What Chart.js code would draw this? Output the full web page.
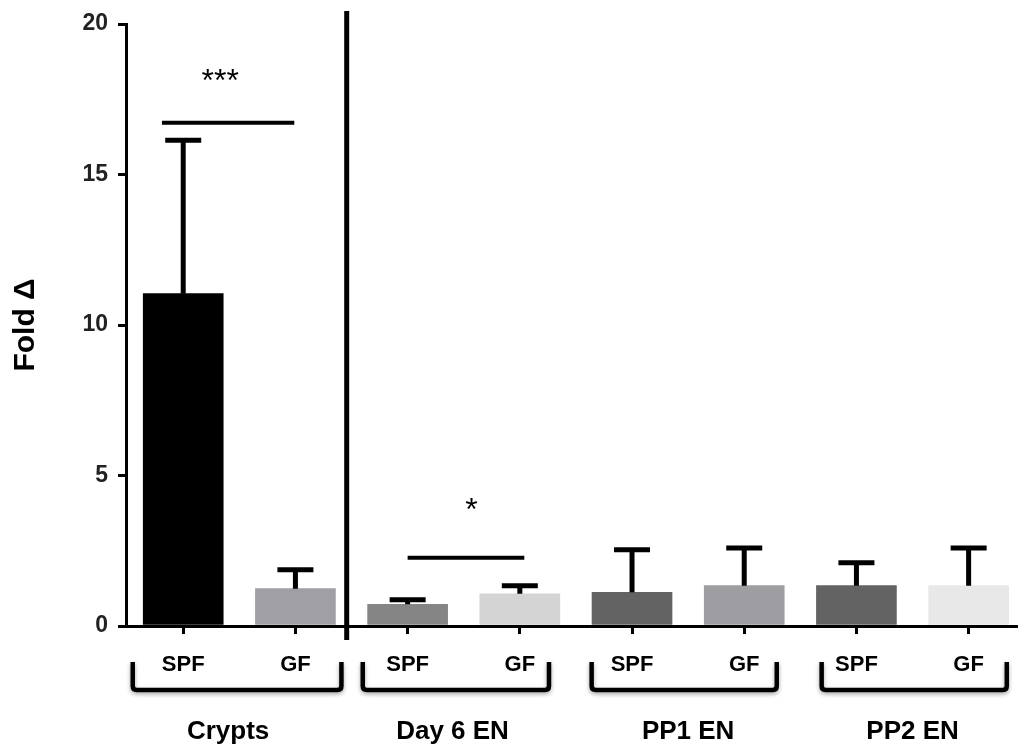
<!DOCTYPE html>
<html>
<head>
<meta charset="utf-8">
<script src="https://cdn.jsdelivr.net/npm/chart.js@4.4.0/dist/chart.umd.min.js"></script>
<style>
  html, body { margin: 0; padding: 0; background: #fff; overflow: hidden; }
  #wrap { width: 1018px; height: 745px; position: relative; }
</style>
</head>
<body>
<div id="wrap"><canvas id="myChart"></canvas></div>
<script>
// bars, left to right
var tickLabels = ['SPF', 'GF', 'SPF', 'GF', 'SPF', 'GF', 'SPF', 'GF'];
var groupLabels = ['Crypts', 'Day 6 EN', 'PP1 EN', 'PP2 EN'];
var means = [11.04, 1.24, 0.72, 1.07, 1.12, 1.34, 1.34, 1.34];
var errorTops = [16.14, 1.87, 0.87, 1.34, 2.53, 2.59, 2.10, 2.59];
var barColors = ['#000000', '#a0a0a4', '#858585', '#d4d4d4', '#636363', '#9e9ea2', '#636363', '#e8e8e8'];
var yTicks = [0, 5, 10, 15, 20];

// significance marks
var sigLabels = ['***', '*'];
var sigLevels = [16.72, 2.27];
var sigFrom = [-0.19, 2.0];
var sigTo = [0.99, 3.04];
var sigLabelX = [0.33, 2.57];
var sigLabelY = [18.06, 3.83];

var FONT = '"Liberation Sans", Arial, sans-serif';

var extras = {
    id: 'extras',
    afterDatasetsDraw: function(chart) {
        var ctx = chart.ctx;
        var x = chart.scales.x, y = chart.scales.y;
        ctx.save();
        ctx.strokeStyle = '#000';
        ctx.fillStyle = '#000';

        // error bars (upper only)
        ctx.lineWidth = 5;
        ctx.lineCap = 'butt';
        for (var i = 0; i < means.length; i++) {
            var px = x.getPixelForValue(i);
            var top = y.getPixelForValue(errorTops[i]);
            ctx.beginPath();
            ctx.moveTo(px, y.getPixelForValue(means[i]));
            ctx.lineTo(px, top);
            ctx.moveTo(px - 18, top);
            ctx.lineTo(px + 18, top);
            ctx.stroke();
        }

        // significance lines
        ctx.lineWidth = 4;
        ctx.font = '32px ' + FONT;
        ctx.textAlign = 'center';
        ctx.textBaseline = 'middle';
        for (var s = 0; s < sigLabels.length; s++) {
            var ly = y.getPixelForValue(sigLevels[s]);
            ctx.beginPath();
            ctx.moveTo(x.getPixelForValue(sigFrom[s]), ly);
            ctx.lineTo(x.getPixelForValue(sigTo[s]), ly);
            ctx.stroke();
            ctx.fillText(sigLabels[s], x.getPixelForValue(sigLabelX[s]), y.getPixelForValue(sigLabelY[s]));
        }

        // separator between crypts and cultures
        ctx.lineWidth = 5;
        var sx = x.getPixelForValue(1.457);
        ctx.beginPath();
        ctx.moveTo(sx, 11);
        ctx.lineTo(sx, y.bottom + 14);
        ctx.stroke();

        // group brackets
        var bl = [-0.45, -0.4, -0.36, -0.31];
        var br = [0.41, 0.26, 0.29, 0.34];
        var bTop = y.bottom + 36, bBot = y.bottom + 64;
        ctx.lineWidth = 4.5;
        ctx.lineJoin = 'round';
        ctx.shadowColor = 'rgba(0,0,0,0.35)';
        ctx.shadowBlur = 4;
        ctx.shadowOffsetY = 2;
        for (var g = 0; g < groupLabels.length; g++) {
            var l = x.getPixelForValue(2 * g + bl[g]);
            var r = x.getPixelForValue(2 * g + 1 + br[g]);
            ctx.beginPath();
            ctx.moveTo(l, bTop);
            ctx.lineTo(l, bBot - 4);
            ctx.quadraticCurveTo(l, bBot, l + 4, bBot);
            ctx.lineTo(r - 4, bBot);
            ctx.quadraticCurveTo(r, bBot, r, bBot - 4);
            ctx.lineTo(r, bTop);
            ctx.stroke();
        }
        ctx.shadowColor = 'transparent';

        // group names
        ctx.font = 'bold 26px ' + FONT;
        ctx.textAlign = 'center';
        ctx.textBaseline = 'middle';
        var gOff = [-0.1, -0.1, 0, 0];
        for (var g2 = 0; g2 < groupLabels.length; g2++) {
            var cx = x.getPixelForValue(2 * g2 + 0.5 + gOff[g2]);
            ctx.fillText(groupLabels[g2], cx, y.bottom + 106);
        }
        ctx.restore();
    }
};

function drawChart()
{
    var ctx = document.getElementById('myChart').getContext('2d');
    var chart = new Chart(ctx, {
        type: 'bar',
        data: {
            datasets: [{
                data: means.map(function(v, i) { return { x: i, y: v }; }),
                backgroundColor: barColors,
                borderWidth: 0,
                barThickness: 80
            }]
        },
        options: {
            responsive: true,
            maintainAspectRatio: false,
            animation: false,
            layout: { padding: { top: 24, right: 0, bottom: 0, left: 0 } },
            plugins: {
                legend: { display: false },
                tooltip: { enabled: false }
            },
            scales: {
                x: {
                    type: 'linear',
                    min: -0.51,
                    max: 7.44,
                    offset: false,
                    afterBuildTicks: function(scale) {
                        scale.ticks = tickLabels.map(function(t, i) { return { value: i }; });
                    },
                    afterFit: function(scale) { scale.height = 119; },
                    grid: {
                        display: true, drawOnChartArea: false, offset: false,
                        tickLength: 8, lineWidth: 3, color: '#000'
                    },
                    border: { display: true, color: '#000', width: 3 },
                    ticks: {
                        autoSkip: false, maxRotation: 0, padding: 18,
                        color: '#000',
                        font: { family: FONT, size: 22, weight: 'bold' },
                        callback: function(v) { return tickLabels[v]; }
                    }
                },
                y: {
                    min: 0,
                    max: 20,
                    afterBuildTicks: function(scale) {
                        scale.ticks = yTicks.map(function(v) { return { value: v }; });
                    },
                    afterFit: function(scale) { scale.width = 126; },
                    grid: {
                        display: true, drawOnChartArea: false,
                        tickLength: 8, lineWidth: 3, color: '#000'
                    },
                    border: { display: true, color: '#000', width: 3 },
                    ticks: {
                        padding: 10, color: '#222',
                        font: { family: FONT, size: 23, weight: 'bold' }
                    },
                    title: {
                        display: true,
                        text: 'Fold Δ',
                        color: '#000',
                        padding: { top: 8, bottom: 0 },
                        font: { family: FONT, size: 30, weight: 'bold' }
                    }
                }
            }
        },
        plugins: [extras]
    });
}
drawChart();
</script>
</body>
</html>
